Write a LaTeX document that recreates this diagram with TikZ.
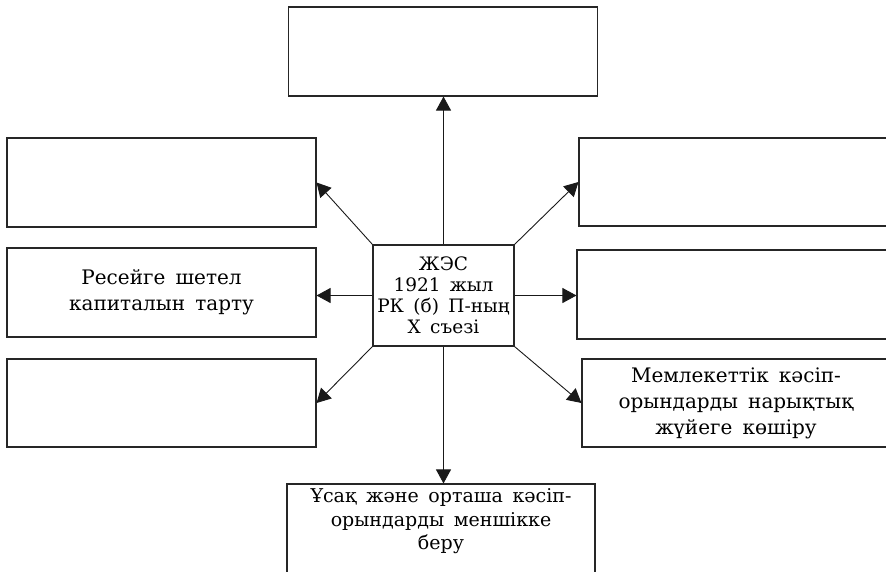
\documentclass[tikz,border=0pt]{standalone}
\usepackage{fontspec}
\setmainfont{DejaVu Serif}[WordSpace=1.6]
\usetikzlibrary{arrows.meta, positioning}

\begin{document}
\begin{tikzpicture}[x=1pt, y=-1pt,
  box/.style={draw=black!85, line width=1.1pt, minimum width=309pt, minimum height=89pt,
    inner sep=0pt, align=center, font=\fontsize{20}{26}\selectfont},
  hub/.style={draw=black!85, line width=1.1pt, minimum width=141pt, minimum height=101pt,
    inner sep=0pt, align=center, font=\fontsize{18.5}{21}\selectfont},
  arr/.style={-{Triangle[length=14pt,width=15pt]}, line width=0.9pt, black!90}]
\useasboundingbox (0,0) rectangle (886,571);
\clip (0,0) rectangle (886,571);

% Centre
\node[hub] (congress) at (443.5,295.5) {ЖЭС\\1921 жыл\\РК (б) П-ның\\X съезі};

% Top
\node[box] (top) at (443,51.5) {};

% Left column
\node[box] (lefttop) at (161.5,182.5) {};
\node[box] (capital) at (161.5,292.5) {Ресейге шетел\\капиталын тарту};
\node[box, minimum height=88pt] (leftbot) at (161.5,403) {};

% Right column (cut by the page edge)
\node[box, minimum width=311pt, minimum height=88pt] (righttop) at (734.5,182) {};
\node[box, minimum width=313pt] (rightmid) at (733.5,294.5) {};
\node[box, minimum width=308pt, minimum height=88pt] (market) at (736,403)
  {Мемлекеттік кәсіп-\\орындарды нарықтық\\жүйеге көшіру};

% Bottom (cut by the page edge)
\node[box, minimum width=308pt, minimum height=100pt,
  label={[anchor=north, yshift=-5pt, inner sep=0pt, align=center,
    font=\fontsize{19}{23.5}\selectfont]north:Ұсақ және орташа кәсіп-\\орындарды меншікке\\беру}]
  (property) at (441,534) {};

% Arrows
\draw[arr] (congress.north) -- (congress.north |- top.south);
\draw[arr] (congress.north west) -- (lefttop.east);
\draw[arr] (congress.west) -- (congress.west -| capital.east);
\draw[arr] (congress.south west) -- (leftbot.east);
\draw[arr] (congress.north east) -- (righttop.west);
\draw[arr] (congress.east) -- (congress.east -| rightmid.west);
\draw[arr] (congress.south east) -- (market.west);
\draw[arr] (congress.south) -- (congress.south |- property.north);
\end{tikzpicture}
\end{document}
